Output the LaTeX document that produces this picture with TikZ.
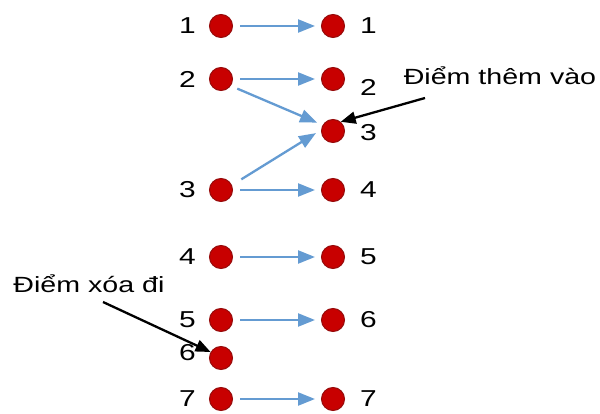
\documentclass[tikz,border=0pt]{standalone}
\usepackage{fontspec}
\setmainfont{Liberation Sans}[FakeStretch=1.3]
\usetikzlibrary{arrows.meta,positioning}

\definecolor{dotRed}{RGB}{200,0,0}
\definecolor{dotRim}{RGB}{150,10,10}
\definecolor{flowBlue}{RGB}{100,155,210}

\begin{document}
\begin{tikzpicture}[
    % pixel-like units, y grows downwards
    x=1pt, y=-1pt,
    pt/.style={circle, fill=dotRed, draw=dotRim, line width=1pt,
        minimum size=23pt, inner sep=0pt},
    num/.style={font=\fontsize{23}{27}\selectfont, inner sep=0pt},
    flow/.style={flowBlue, line width=2.3pt,
        -{Triangle[length=17pt,width=13pt]}, shorten <=7pt, shorten >=6pt},
    pointer/.style={black, line width=2.3pt,
        -{Triangle[length=15pt,width=12pt]}},
    note/.style={font=\fontsize{22}{26}\selectfont, inner sep=0pt, anchor=base}
]
    \useasboundingbox (0,0) rectangle (600,414);

    % --- Old points (left column) ---
    \node[pt] (L1) at (221,26) {};
    \node[pt] (L2) at (221,79) {};
    \node[pt] (L3) at (221,190) {};
    \node[pt] (L4) at (221,257) {};
    \node[pt] (L5) at (221,320) {};
    \node[pt] (L6) at (221,358) {};
    \node[pt] (L7) at (221,399) {};

    % --- New points (right column) ---
    \node[pt] (R1) at (333,26) {};
    \node[pt] (R2) at (333,79) {};
    \node[pt] (R3) at (333,131) {};
    \node[pt] (R4) at (333,190) {};
    \node[pt] (R5) at (333,257) {};
    \node[pt] (R6) at (333,320) {};
    \node[pt] (R7) at (333,399) {};

    % --- Indices ---
    \node[num, left=13pt of L1] (nL1) {1};
    \node[num, left=13pt of L2] (nL2) {2};
    \node[num, left=13pt of L3] (nL3) {3};
    \node[num, left=13pt of L4] (nL4) {4};
    \node[num, left=13pt of L5] (nL5) {5};
    \node[num, left=13pt of L6, yshift=5pt] (nL6) {6};
    \node[num, left=13pt of L7] (nL7) {7};

    \node[num, right=15pt of R1] (nR1) {1};
    \node[num, right=15pt of R2, yshift=-8pt] (nR2) {2};
    \node[num, right=15pt of R3, yshift=-2pt] (nR3) {3};
    \node[num, right=15pt of R4] (nR4) {4};
    \node[num, right=15pt of R5] (nR5) {5};
    \node[num, right=15pt of R6] (nR6) {6};
    \node[num, right=15pt of R7] (nR7) {7};

    % --- Mapping old -> new ---
    \draw[flow] (L1) -- (R1);
    \draw[flow] (L2) -- (R2);
    \draw[flow] (L2.-35) -- (R3.150);
    \draw[flow, shorten <=11pt] (L3.24) -- (R3.175);
    \draw[flow] (L3) -- (R4);
    \draw[flow] (L4) -- (R5);
    \draw[flow] (L5) -- (R6);
    \draw[flow] (L7) -- (R7);

    % --- Notes ---
    \node[note] (T) at (500,85) {Điểm thêm vào};
    \node[note] (D) at (89,292) {Điểm xóa đi};
    \coordinate (T_foot) at (425,98);
    \coordinate (D_foot) at (103,302);
    \draw[pointer] (T_foot) -- (R3.50);
    \draw[pointer] (D_foot) -- (L6.150);

\end{tikzpicture}
\end{document}
